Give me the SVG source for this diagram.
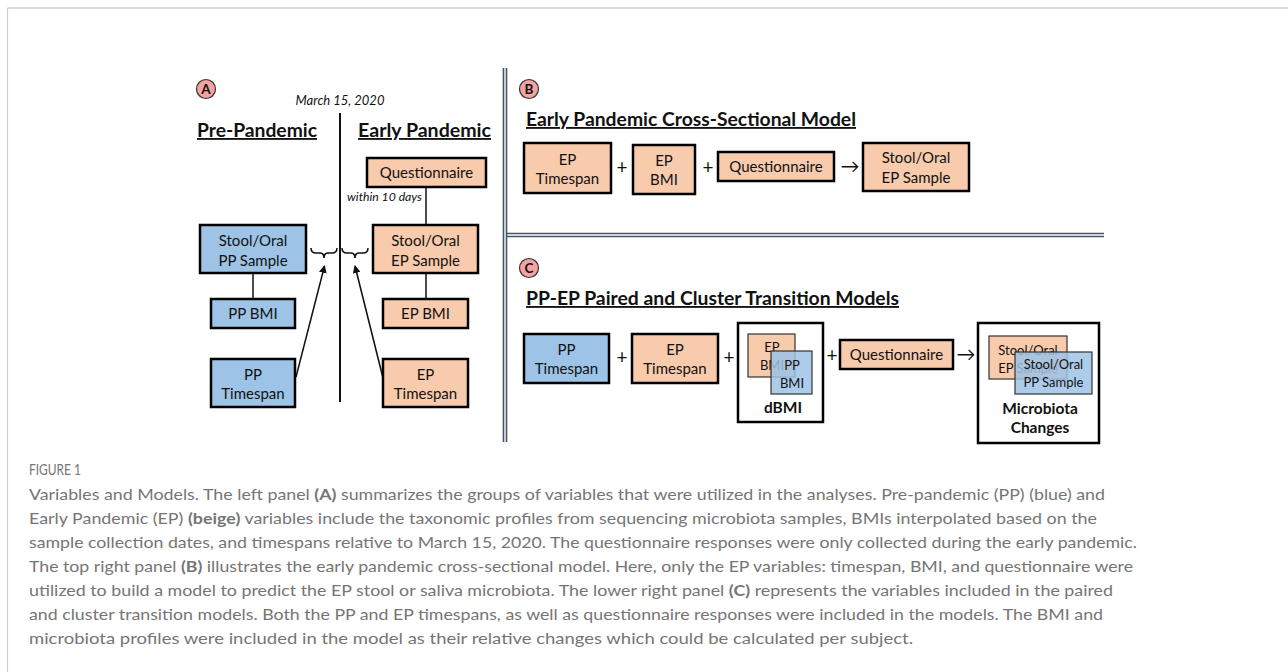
<svg xmlns="http://www.w3.org/2000/svg" width="1288" height="672" viewBox="0 0 1288 672">
<style>
  .bx{stroke:#000;stroke-width:2.5}
  .pp{fill:#9DC3E6}
  .ep{fill:#F8CBAD}
  .t{font-family:Lato,"Liberation Sans",sans-serif;font-size:15px;fill:#111;text-anchor:middle}
  .s{font-family:Lato,"Liberation Sans",sans-serif;font-size:13px;fill:#111;text-anchor:middle}
  .h{font-family:Lato,"Liberation Sans",sans-serif;font-size:18.5px;font-weight:bold;fill:#111;text-decoration:underline}
  .b{font-family:Lato,"Liberation Sans",sans-serif;font-size:15.5px;font-weight:bold;fill:#111;text-anchor:middle}
  .it{font-family:Lato,"Liberation Sans",sans-serif;font-style:italic;fill:#111}
  .op{font-family:Lato,"Liberation Sans",sans-serif;font-size:19px;fill:#111;text-anchor:middle}
  .ln{stroke:#111;stroke-width:1.5;fill:none}
  .dl{stroke:#44546A;stroke-width:1.6}
  .cap{font-family:Lato,"Open Sans",sans-serif;font-size:16px;fill:#757575}
  .circ{fill:#F4A3A0;stroke:#333;stroke-width:1.2}
  .cl{font-family:Lato,"Liberation Sans",sans-serif;font-size:13.5px;font-weight:bold;fill:#111;text-anchor:middle}
</style>
<defs>
  <marker id="ah" markerWidth="8" markerHeight="8" refX="7" refY="4" orient="auto" markerUnits="userSpaceOnUse">
    <path d="M0,0 L8,4 L0,8 z" fill="#111"/>
  </marker>
</defs>
<rect width="1288" height="672" fill="#fff"/>
<!-- frame -->
<line x1="7.5" y1="8" x2="1288" y2="8" stroke="#d0d0d0" stroke-width="1.5"/>
<line x1="7.5" y1="8" x2="7.5" y2="672" stroke="#d0d0d0" stroke-width="1.2"/>

<!-- panel separators -->
<g id="separators">
  <line class="dl" x1="503.5" y1="68" x2="503.5" y2="442"/>
  <line class="dl" x1="506.5" y1="68" x2="506.5" y2="442"/>
  <line class="dl" x1="507" y1="233.5" x2="1104" y2="233.5"/>
  <line class="dl" x1="507" y1="236.5" x2="1104" y2="236.5"/>
</g>

<!-- Panel A -->
<g id="labelA"><circle class="circ" cx="206" cy="89" r="9.5"/><text class="cl" x="206" y="94">A</text></g>
<text class="it" x="340" y="105" font-size="13" text-anchor="middle">March 15, 2020</text>
<line x1="340" y1="113" x2="340" y2="402" stroke="#111" stroke-width="2"/>
<text class="h" x="197" y="137" textLength="120" lengthAdjust="spacingAndGlyphs">Pre-Pandemic</text>
<text class="h" x="358" y="137" textLength="133" lengthAdjust="spacingAndGlyphs">Early Pandemic</text>
<text class="it" x="347" y="201" font-size="12" textLength="75" lengthAdjust="spacingAndGlyphs">within 10 days</text>

<g id="connectors">
  <line class="ln" x1="426" y1="187" x2="426" y2="225"/>
  <line class="ln" x1="426" y1="273" x2="426" y2="299"/>
  <line class="ln" x1="253" y1="273" x2="253" y2="299"/>
  <path class="ln" stroke-width="1" d="M311,248 Q311,253 316,253 L320,253 Q324,253 324,258 Q324,253 328,253 L332,253 Q337,253 337,248"/>
  <path class="ln" stroke-width="1" d="M342,248 Q342,253 347,253 L351,253 Q355,253 355,258 Q355,253 359,253 L363,253 Q368,253 368,248"/>
  <line class="ln" x1="296" y1="377" x2="324.5" y2="266" marker-end="url(#ah)"/>
  <line class="ln" x1="383" y1="378" x2="355" y2="266" marker-end="url(#ah)"/>
</g>

<g id="a-questionnaire"><rect class="bx ep" x="367" y="158" width="119" height="29"/><text class="t" x="426.5" y="178">Questionnaire</text></g>
<g id="a-pp-sample"><rect class="bx pp" x="200" y="225" width="106" height="48"/><text class="t" x="253" y="245.5">Stool/Oral</text><text class="t" x="253" y="265.5">PP Sample</text></g>
<g id="a-ep-sample"><rect class="bx ep" x="373" y="225" width="105" height="48"/><text class="t" x="425.5" y="245.5">Stool/Oral</text><text class="t" x="425.5" y="265.5">EP Sample</text></g>
<g id="a-pp-bmi"><rect class="bx pp" x="211" y="299" width="84" height="29"/><text class="t" x="253" y="319">PP BMI</text></g>
<g id="a-ep-bmi"><rect class="bx ep" x="383" y="299" width="85" height="29"/><text class="t" x="425.5" y="319">EP BMI</text></g>
<g id="a-pp-timespan"><rect class="bx pp" x="211" y="359" width="84" height="48"/><text class="t" x="253" y="379.5">PP</text><text class="t" x="253" y="398.5">Timespan</text></g>
<g id="a-ep-timespan"><rect class="bx ep" x="383" y="359" width="85" height="48"/><text class="t" x="425.5" y="379.5">EP</text><text class="t" x="425.5" y="398.5">Timespan</text></g>

<!-- Panel B -->
<g id="labelB"><circle class="circ" cx="529" cy="89" r="9.5"/><text class="cl" x="529" y="94">B</text></g>
<text class="h" x="526" y="126" textLength="330" lengthAdjust="spacingAndGlyphs">Early Pandemic Cross-Sectional Model</text>
<g id="b-ep-timespan"><rect class="bx ep" x="524" y="143" width="87" height="50"/><text class="t" x="567.5" y="164.5">EP</text><text class="t" x="567.5" y="183.5">Timespan</text></g>
<text class="op" x="622" y="173.5">+</text>
<g id="b-ep-bmi"><rect class="bx ep" x="633" y="145" width="62" height="49"/><text class="t" x="664" y="165.5">EP</text><text class="t" x="664" y="184.5">BMI</text></g>
<text class="op" x="708" y="173.5">+</text>
<g id="b-questionnaire"><rect class="bx ep" x="718" y="152" width="116" height="29"/><text class="t" x="776" y="172">Questionnaire</text></g>
<text class="op" x="850" y="173">→</text>
<g id="b-ep-sample"><rect class="bx ep" x="863" y="143" width="106" height="48"/><text class="t" x="916" y="162.5">Stool/Oral</text><text class="t" x="916" y="182.5">EP Sample</text></g>

<!-- Panel C -->
<g id="labelC"><circle class="circ" cx="529" cy="268" r="9.5"/><text class="cl" x="529" y="273">C</text></g>
<text class="h" x="526" y="305" textLength="373" lengthAdjust="spacingAndGlyphs">PP-EP Paired and Cluster Transition Models</text>
<g id="c-pp-timespan"><rect class="bx pp" x="524" y="334" width="85" height="49"/><text class="t" x="566.5" y="354.5">PP</text><text class="t" x="566.5" y="373.5">Timespan</text></g>
<text class="op" x="622" y="363.5">+</text>
<g id="c-ep-timespan"><rect class="bx ep" x="632" y="334" width="86" height="49"/><text class="t" x="675" y="354.5">EP</text><text class="t" x="675" y="373.5">Timespan</text></g>
<text class="op" x="729" y="363.5">+</text>
<g id="c-dbmi">
  <rect x="738" y="323" width="85" height="99" fill="#fff" stroke="#000" stroke-width="2.5"/>
  <rect class="ep" x="748" y="334" width="47" height="43" stroke="#333" stroke-width="1.2"/>
  <text class="s" x="772" y="351.5">EP</text><text class="s" x="772" y="369.5">BMI</text>
  <rect x="771" y="351" width="41" height="43" fill="#9DC3E6" fill-opacity="0.85" stroke="#333" stroke-width="1.2"/>
  <text class="s" x="792" y="369.5">PP</text><text class="s" x="792" y="387.5">BMI</text>
  <text class="b" x="783" y="413">dBMI</text>
</g>
<text class="op" x="832" y="361.5">+</text>
<g id="c-questionnaire"><rect class="bx ep" x="840" y="340" width="113" height="29"/><text class="t" x="896.5" y="360">Questionnaire</text></g>
<text class="op" x="966" y="361">→</text>
<g id="c-microbiota">
  <rect x="978" y="323" width="121" height="120" fill="#fff" stroke="#000" stroke-width="2.5"/>
  <rect class="ep" x="989" y="336" width="78" height="43" stroke="#333" stroke-width="1.2"/>
  <text class="s" x="1028" y="355">Stool/Oral</text><text class="s" x="1028" y="372.5">EP Sample</text>
  <rect x="1015" y="352" width="77" height="42" fill="#9DC3E6" fill-opacity="0.85" stroke="#333" stroke-width="1.2"/>
  <text class="s" x="1053.5" y="369">Stool/Oral</text><text class="s" x="1053.5" y="386.5">PP Sample</text>
  <text class="b" x="1040" y="413.5">Microbiota</text>
  <text class="b" x="1040" y="433">Changes</text>
</g>

<!-- Caption -->
<g id="caption">
<text class="cap" x="29" y="475" font-size="12.5" textLength="52" lengthAdjust="spacingAndGlyphs">FIGURE 1</text>
<text class="cap" x="29" y="500" textLength="1076" lengthAdjust="spacingAndGlyphs">Variables and Models. The left panel <tspan font-weight="bold">(A)</tspan> summarizes the groups of variables that were utilized in the analyses. Pre-pandemic (PP) (blue) and</text>
<text class="cap" x="29" y="524" textLength="1068" lengthAdjust="spacingAndGlyphs">Early Pandemic (EP) <tspan font-weight="bold">(beige)</tspan> variables include the taxonomic profiles from sequencing microbiota samples, BMIs interpolated based on the</text>
<text class="cap" x="29" y="548" textLength="1108" lengthAdjust="spacingAndGlyphs">sample collection dates, and timespans relative to March 15, 2020. The questionnaire responses were only collected during the early pandemic.</text>
<text class="cap" x="29" y="572" textLength="1104" lengthAdjust="spacingAndGlyphs">The top right panel <tspan font-weight="bold">(B)</tspan> illustrates the early pandemic cross-sectional model. Here, only the EP variables: timespan, BMI, and questionnaire were</text>
<text class="cap" x="29" y="596" textLength="1084" lengthAdjust="spacingAndGlyphs">utilized to build a model to predict the EP stool or saliva microbiota. The lower right panel <tspan font-weight="bold">(C)</tspan> represents the variables included in the paired</text>
<text class="cap" x="29" y="620" textLength="1074" lengthAdjust="spacingAndGlyphs">and cluster transition models. Both the PP and EP timespans, as well as questionnaire responses were included in the models. The BMI and</text>
<text class="cap" x="29" y="644" textLength="884" lengthAdjust="spacingAndGlyphs">microbiota profiles were included in the model as their relative changes which could be calculated per subject.</text>
</g>
</svg>
